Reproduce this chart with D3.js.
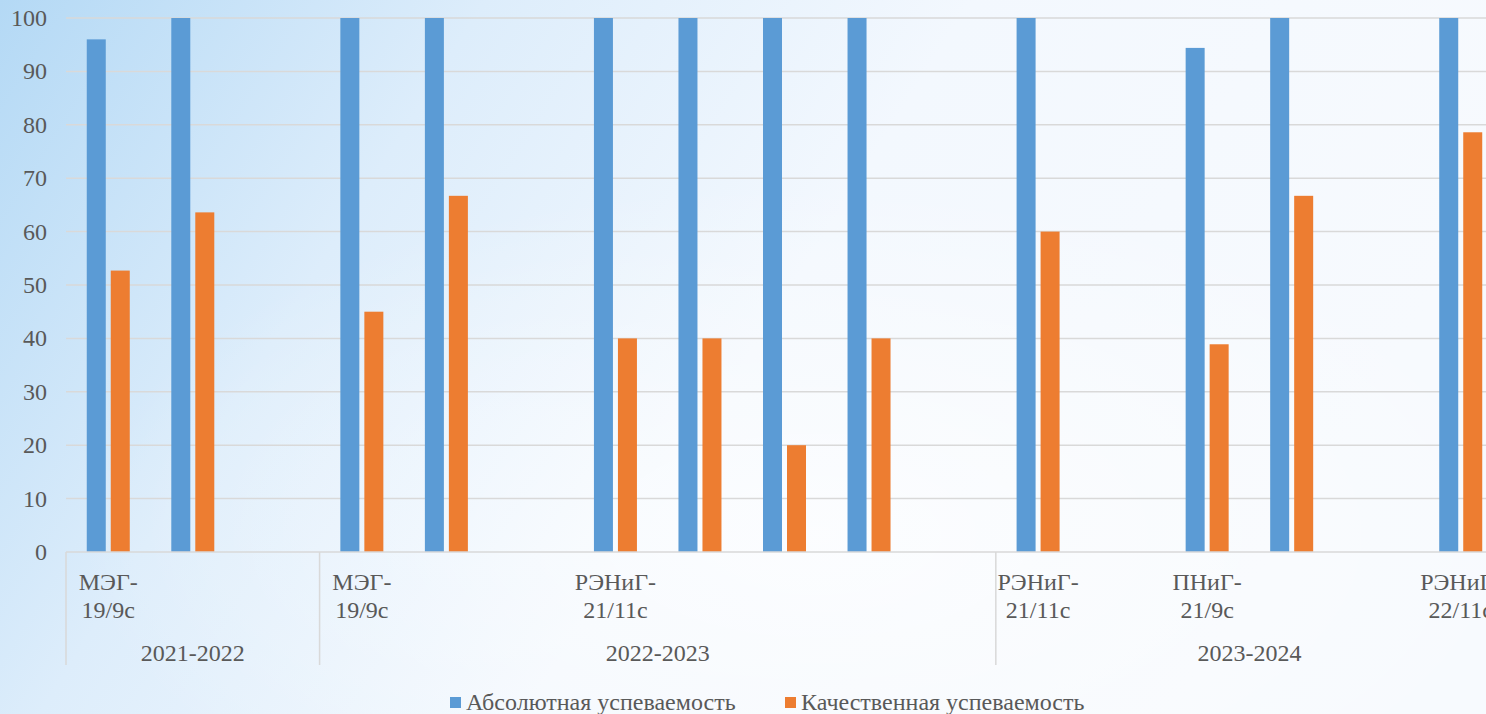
<!DOCTYPE html>
<html>
<head>
<meta charset="utf-8">
<script src="https://cdn.jsdelivr.net/npm/d3@7"></script>
<style>
  body { margin: 0; overflow: hidden; }
</style>
</head>
<body>
<div id="graph"></div>
<script>
// data
const slots = ["s0","s1","s2","s3","s4","s5","s6","s7","s8","s9","s10","s11","s12","s13","s14","s15","s16"]
const slotLabels = ["МЭГ-|19/9с","","","МЭГ-|19/9с","","","РЭНиГ-|21/11с","","","","","РЭНиГ-|21/11с","","ПНиГ-|21/9с","","","РЭНиГ-|22/11с"]
const absolute = [96, 100, null, 100, 100, null, 100, 100, 100, 100, null, 100, null, 94.4, 100, null, 100]
const quality = [52.7, 63.6, null, 45, 66.7, null, 40, 40, 20, 40, null, 60, null, 38.9, 66.7, null, 78.6]
const years = ["2021-2022", "2022-2023", "2023-2024"]
const yearStart = [0, 3, 11]
const yearEnd = [3, 11, 17]
const yTicks = [0, 10, 20, 30, 40, 50, 60, 70, 80, 90, 100]
const seriesNames = ["Абсолютная успеваемость", "Качественная успеваемость"]
const colors = ["#5b9bd5", "#ed7d31"]

const width = 1486
const height = 714
const fs = 24

const svg = d3.select("#graph").append("svg")
  .attr("width", width).attr("height", height)
  .style("font-family", "'Liberation Serif', 'Times New Roman', serif")

// background
const defs = svg.append("defs")
const lg = defs.append("linearGradient").attr("id", "bg").attr("x1", "0").attr("y1", "0").attr("x2", "1").attr("y2", "0.3")
lg.append("stop").attr("offset", "0").attr("stop-color", "#b4d9f5")
lg.append("stop").attr("offset", "0.3").attr("stop-color", "#ddedfb")
lg.append("stop").attr("offset", "0.6").attr("stop-color", "#f3f8fe")
lg.append("stop").attr("offset", "1").attr("stop-color", "#f7fafe")
svg.append("rect").attr("width", width).attr("height", height).attr("fill", "url(#bg)")
const rg = defs.append("radialGradient").attr("id", "glow").attr("cx", "0.55").attr("cy", "0.75").attr("r", "0.5")
rg.append("stop").attr("offset", "0").attr("stop-color", "#ffffff").attr("stop-opacity", 0.7)
rg.append("stop").attr("offset", "1").attr("stop-color", "#ffffff").attr("stop-opacity", 0)
svg.append("rect").attr("width", width).attr("height", height).attr("fill", "url(#glow)")

const x = d3.scaleBand().domain(slots).range([66, 1503])
const y = d3.scaleLinear().domain([0, 100]).range([552, 18])

// gridlines
svg.append("g").selectAll("line").data(yTicks.slice(1)).join("line")
  .attr("x1", 66).attr("x2", 1503)
  .attr("y1", d => y(d)).attr("y2", d => y(d))
  .attr("stroke", "#d9d9d9").attr("stroke-width", 1.5)

// y tick labels
svg.append("g").selectAll("text").data(yTicks).join("text")
  .attr("x", 47).attr("y", d => y(d) + 8)
  .attr("text-anchor", "end").attr("font-size", fs).attr("fill", "#595959")
  .text(d => d)

// bars
const barW = 19
const series = [absolute, quality]
series.forEach((vals, si) => {
  svg.append("g").selectAll("rect")
    .data(vals.map((v, i) => ({ v, slot: slots[i] })).filter(d => d.v != null))
    .join("rect")
    .attr("x", d => x(d.slot) + x.bandwidth() / 2 - barW - 2.5 + si * (barW + 5))
    .attr("y", d => y(d.v))
    .attr("width", barW)
    .attr("height", d => y(0) - y(d.v))
    .attr("fill", colors[si])
})

// x axis line
svg.append("line").attr("x1", 66).attr("x2", 1503).attr("y1", y(0)).attr("y2", y(0))
  .attr("stroke", "#d9d9d9").attr("stroke-width", 1.5)

// group separators
const seps = yearStart.concat([yearEnd[yearEnd.length - 1]])
svg.append("g").selectAll("line").data(seps).join("line")
  .attr("x1", d => d < slots.length ? x(slots[d]) : x.range()[1])
  .attr("x2", d => d < slots.length ? x(slots[d]) : x.range()[1])
  .attr("y1", y(0)).attr("y2", 665)
  .attr("stroke", "#d9d9d9").attr("stroke-width", 1.5)

// category labels
const cat = svg.append("g").selectAll("text").data(slotLabels.map((l, i) => ({ l, slot: slots[i] })).filter(d => d.l)).join("text")
  .attr("text-anchor", "middle").attr("font-size", fs).attr("fill", "#595959")
  .attr("transform", d => "translate(" + (x(d.slot) + x.bandwidth() / 2) + ",0)")
cat.selectAll("tspan").data(d => d.l.split("|")).join("tspan")
  .attr("x", 0).attr("y", (d, i) => 590 + i * 27.5)
  .text(d => d)

// year labels
svg.append("g").selectAll("text").data(years).join("text")
  .attr("x", (d, i) => {
    const a = x(slots[yearStart[i]])
    const b = yearEnd[i] < slots.length ? x(slots[yearEnd[i]]) : x.range()[1]
    return (a + b) / 2
  })
  .attr("y", 661).attr("text-anchor", "middle").attr("font-size", fs).attr("fill", "#595959")
  .text(d => d)

// legend
const legX = [450, 785]
const leg = svg.append("g").selectAll("g").data(seriesNames).join("g")
  .attr("transform", (d, i) => "translate(" + legX[i] + ",697)")
leg.append("rect").attr("width", 11).attr("height", 11).attr("fill", (d, i) => colors[i])
leg.append("text").attr("x", 16).attr("y", 13).attr("font-size", fs).attr("fill", "#595959").text(d => d)
</script>
</body>
</html>
